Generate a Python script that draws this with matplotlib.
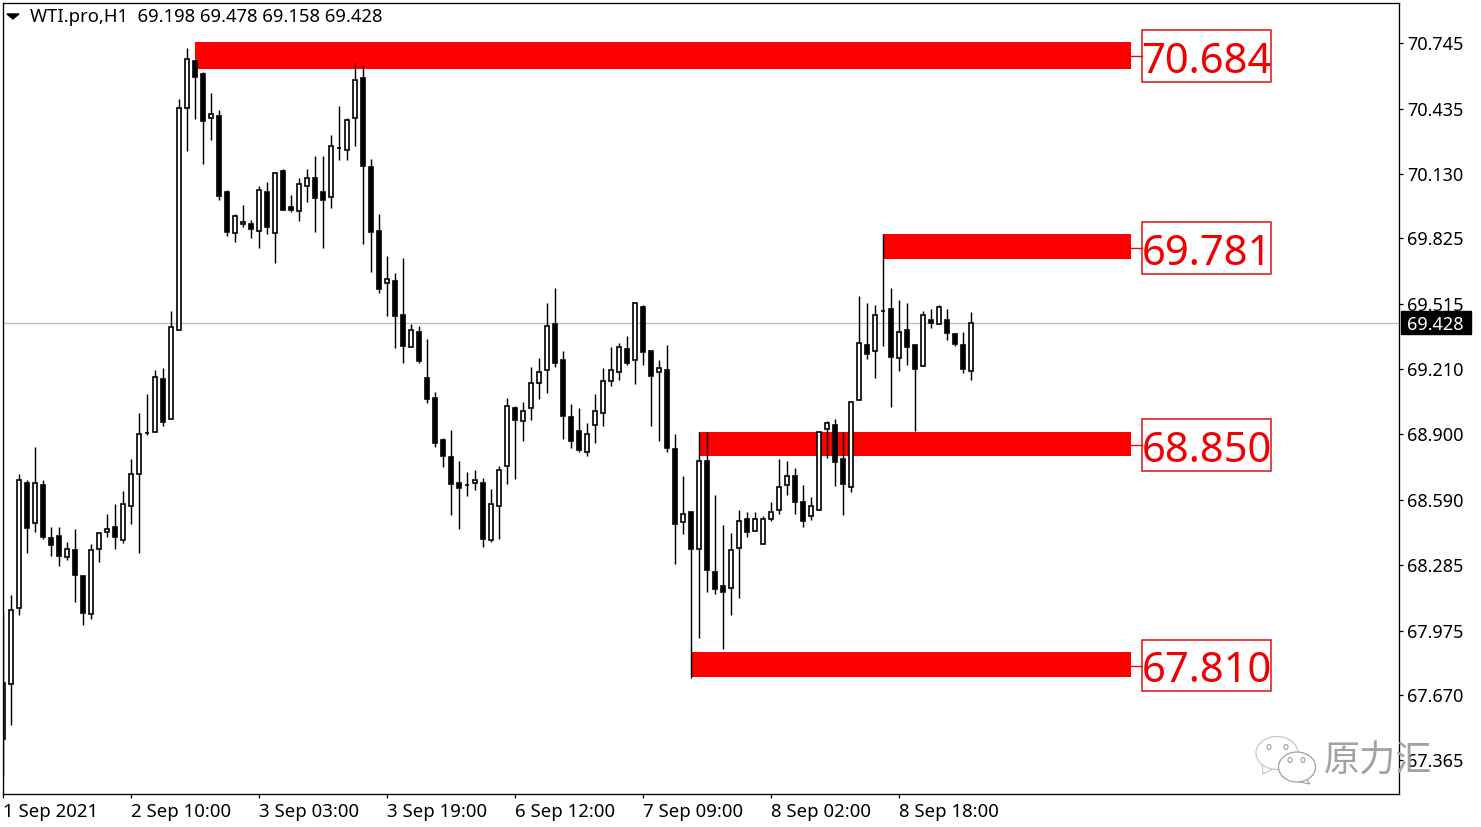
import matplotlib
matplotlib.use('Agg')
import matplotlib.pyplot as plt
from matplotlib.patches import Rectangle, Ellipse, Polygon
from matplotlib.transforms import blended_transform_factory

plt.rcParams['font.family'] = ['Noto Sans', 'DejaVu Sans']

# 1. Chart data (WTI.pro, H1 bars)
opens = [67.464, 67.723, 68.081, 68.671, 68.482, 68.661, 68.411, 68.421, 68.322, 68.355,
         68.232, 68.053, 68.359, 68.440, 68.463, 68.402, 68.562, 68.713, 68.906, 68.911,
         69.161, 68.972, 69.392, 70.439, 70.660, 70.599, 70.392, 70.401, 70.043, 69.850,
         69.892, 69.892, 69.859, 70.043, 69.850, 70.142, 69.972, 69.953, 70.071, 70.109,
         70.043, 70.019, 70.250, 70.241, 70.392, 70.580, 70.161, 69.859, 69.614, 69.623,
         69.463, 69.312, 69.383, 69.166, 69.071, 68.873, 68.793, 68.671, 68.661, 68.671,
         68.671, 68.402, 68.562, 68.751, 69.024, 68.963, 69.024, 69.142, 69.203, 69.420,
         69.251, 68.982, 68.916, 68.817, 68.944, 69.001, 69.151, 69.194, 69.303, 69.251,
         69.500, 69.293, 69.194, 69.203, 68.831, 68.487, 68.534, 68.359, 68.774, 68.251,
         68.185, 68.176, 68.364, 68.501, 68.444, 68.383, 68.501, 68.543, 68.661, 68.704,
         68.581, 68.515, 68.543, 68.925, 68.944, 68.784, 68.652, 69.062, 69.321, 69.293,
         69.482, 69.491, 69.260, 69.392, 69.321, 69.222, 69.439, 69.420, 69.439, 69.373,
         69.321, 69.198]
highs = [68.063, 68.142, 68.713, 68.685, 68.840, 68.685, 68.463, 68.463, 68.392, 68.454,
         68.232, 68.383, 68.435, 68.525, 68.572, 68.633, 68.784, 69.001, 69.090, 69.203,
         69.213, 69.482, 70.481, 70.722, 70.660, 70.608, 70.509, 70.429, 70.052, 69.939,
         69.981, 69.911, 70.071, 70.090, 70.137, 70.151, 70.029, 70.109, 70.151, 70.212,
         70.212, 70.311, 70.448, 70.392, 70.651, 70.641, 70.198, 69.939, 69.741, 69.661,
         69.732, 69.420, 69.411, 69.350, 69.100, 68.883, 68.921, 68.774, 68.722, 68.732,
         68.694, 68.642, 68.751, 69.071, 69.034, 69.052, 69.217, 69.260, 69.519, 69.590,
         69.293, 69.043, 69.024, 68.954, 69.090, 69.213, 69.312, 69.331, 69.364, 69.519,
         69.510, 69.293, 69.251, 69.321, 68.902, 68.704, 68.534, 68.911, 68.911, 68.614,
         68.473, 68.435, 68.543, 68.534, 68.534, 68.515, 68.581, 68.784, 68.774, 68.741,
         68.661, 68.605, 68.911, 68.963, 68.972, 68.911, 69.052, 69.552, 69.519, 69.510,
         69.845, 69.590, 69.534, 69.519, 69.321, 69.482, 69.491, 69.510, 69.491, 69.373,
         69.383, 69.478]
lows = [67.289, 67.530, 68.048, 68.341, 68.440, 68.407, 68.326, 68.279, 68.308, 68.110,
        68.001, 68.030, 68.298, 68.416, 68.359, 68.388, 68.477, 68.341, 68.897, 68.911,
        68.939, 68.972, 69.392, 70.236, 70.387, 70.175, 70.288, 70.005, 69.835, 69.807,
        69.878, 69.826, 69.779, 69.845, 69.708, 69.958, 69.948, 69.906, 69.996, 69.854,
        69.779, 69.967, 70.194, 70.194, 70.260, 69.798, 69.666, 69.567, 69.458, 69.307,
        69.236, 69.312, 69.236, 69.048, 68.840, 68.746, 68.520, 68.454, 68.610, 68.638,
        68.369, 68.393, 68.407, 68.666, 68.689, 68.869, 68.968, 69.067, 69.095, 69.217,
        68.878, 68.836, 68.817, 68.798, 68.859, 68.939, 69.128, 69.156, 69.227, 69.137,
        69.227, 68.939, 68.869, 68.817, 68.289, 68.430, 67.751, 67.940, 68.157, 68.147,
        67.888, 68.048, 68.128, 68.416, 68.444, 68.383, 68.491, 68.525, 68.614, 68.525,
        68.463, 68.496, 68.543, 68.788, 68.656, 68.520, 68.628, 69.062, 69.255, 69.166,
        69.317, 69.029, 69.199, 69.227, 68.916, 69.222, 69.401, 69.420, 69.345, 69.317,
        69.189, 69.158]
closes = [67.728, 68.072, 68.685, 68.458, 68.671, 68.416, 68.378, 68.326, 68.359, 68.237,
          68.058, 68.355, 68.435, 68.454, 68.416, 68.572, 68.713, 68.902, 68.906, 69.170,
          68.958, 69.406, 70.439, 70.670, 70.585, 70.378, 70.410, 70.024, 69.854, 69.930,
          69.901, 69.868, 70.052, 69.878, 70.132, 69.958, 69.958, 70.080, 70.109, 70.014,
          70.005, 70.260, 70.250, 70.382, 70.571, 70.165, 69.854, 69.585, 69.632, 69.458,
          69.317, 69.392, 69.246, 69.067, 68.859, 68.798, 68.666, 68.647, 68.661, 68.685,
          68.407, 68.572, 68.732, 69.034, 68.968, 69.010, 69.142, 69.194, 69.411, 69.236,
          68.987, 68.869, 68.826, 68.902, 69.010, 69.151, 69.203, 69.312, 69.236, 69.519,
          69.288, 69.175, 69.213, 68.836, 68.477, 68.525, 68.359, 68.774, 68.260, 68.171,
          68.157, 68.355, 68.491, 68.440, 68.501, 68.501, 68.534, 68.652, 68.704, 68.581,
          68.491, 68.562, 68.911, 68.954, 68.770, 68.666, 69.052, 69.331, 69.279, 69.463,
          69.482, 69.265, 69.383, 69.312, 69.208, 69.463, 69.425, 69.500, 69.378, 69.326,
          69.208, 69.428]

level_values = [70.684, 69.781, 68.850, 67.810]
level_labels = ['70.684', '69.781', '68.850', '67.810']
band_tops = [70.750, 69.845, 68.911, 67.874]
band_bottoms = [70.623, 69.727, 68.798, 67.756]
level_start = [24, 110, 87, 86]
level_end = 141

y_ticks = [70.745, 70.435, 70.130, 69.825, 69.515, 69.210, 68.900, 68.590, 68.285, 67.975, 67.670, 67.365]
y_tick_labels = ['70.745', '70.435', '70.130', '69.825', '69.515', '69.210', '68.900', '68.590',
                 '68.285', '67.975', '67.670', '67.365']
x_ticks = [0, 16, 32, 48, 64, 80, 96, 112]
x_tick_labels = ['1 Sep 2021', '2 Sep 10:00', '3 Sep 03:00', '3 Sep 19:00',
                 '6 Sep 12:00', '7 Sep 09:00', '8 Sep 02:00', '8 Sep 18:00']
last_price = 69.428
header = 'WTI.pro,H1  69.198 69.478 69.158 69.428'

# 2. Figure and axes, placed to the pixel
W, H = 1481, 827
fig = plt.figure(figsize=(W / 100, H / 100), dpi=100, facecolor='white')
ax = fig.add_axes([2.5 / W, 1 - 794 / H, (1399 - 2.5) / W, (794 - 2.5) / H])
ax.set_xlim(-0.125, 174.44)
ax.set_ylim(67.204, 70.938)
for s in ax.spines.values():
    s.set_linewidth(0.95)

# 3. Red bands with their boxed labels
for v, lab, st, top, bot in zip(level_values, level_labels, level_start, band_tops, band_bottoms):
    ax.barh((top + bot) / 2, level_end - st, left=st, height=top - bot, color='#ff0000', zorder=1)
    ax.plot([level_end, 142.3], [v, v], color='#e01010', lw=1, zorder=1)
    ax.add_patch(Rectangle((142.3, v - 0.122), 16.2, 0.244, fill=False, ec='#e01010', lw=1.1, zorder=3))
    ax.text(150.4, v - 0.004, lab, color='#f00000', fontsize=30, ha='center', va='center_baseline', zorder=3)

# 4. Current price line
ax.axhline(last_price, color='#c0c0c0', lw=1, zorder=1.5)

# 5. Candles
bars = list(range(len(opens)))
ax.vlines(bars, lows, highs, color='black', lw=1.05, zorder=2)
for i in bars:
    up = closes[i] >= opens[i]
    ax.bar(i, abs(closes[i] - opens[i]), bottom=min(opens[i], closes[i]), width=0.5,
           facecolor='white' if up else 'black', edgecolor='black', linewidth=1.2, zorder=2.5)

# 6. Axis labels
ax.yaxis.tick_right()
ax.set_yticks(y_ticks)
ax.set_yticklabels(y_tick_labels, fontsize=13)
ax.set_xticks(x_ticks)
ax.set_xticklabels(x_tick_labels, fontsize=13.4, ha='left')
ax.tick_params(axis='y', length=3, width=0.9, pad=3)
ax.tick_params(axis='x', length=3, width=0.9, pad=3.5)

ax.text(0.0195, 0.9817, header, transform=ax.transAxes, fontsize=13.3, ha='left', va='center')
ax.add_patch(Polygon([[0.0032, 0.9855], [0.0118, 0.9855], [0.0075, 0.9792]], transform=ax.transAxes,
                     color='black', zorder=4))

# black box holding the last price
trans = blended_transform_factory(ax.transAxes, ax.transData)
ax.add_patch(Rectangle((1.0015, last_price - 0.054), 0.0502, 0.108, transform=trans, color='black',
                       clip_on=False, zorder=5))
ax.text(1.0060, last_price, '69.428', transform=trans, color='white', fontsize=13, ha='left',
        va='center_baseline', clip_on=False, zorder=6)

# 7. Watermark on an overlay in pixel units
over = fig.add_axes([0, 0, 1, 1], zorder=10)
over.set_xlim(0, W)
over.set_ylim(H, 0)
over.axis('off')
mark = '#a0a0a0'
over.add_patch(Polygon([[1262, 762], [1263, 774], [1275, 768]], fc='white', ec='#c4c4c4', lw=0.8))
over.add_patch(Ellipse((1277, 753), 42, 33, fc='white', ec='#c8c8c8', lw=0.9))
over.add_patch(Polygon([[1304, 776], [1310, 784], [1295, 781]], fc='white', ec=mark, lw=0.8))
over.add_patch(Ellipse((1297, 767), 37, 30, fc='white', ec=mark, lw=0.9))
for ex, ey in [(1269, 747), (1286, 747), (1290, 760), (1303, 760)]:
    over.add_patch(Ellipse((ex, ey), 4, 5, fc='white', ec=mark, lw=0.8))
over.text(1378, 762, '原力汇', family=['Noto Sans CJK SC', 'DejaVu Sans'], fontsize=26,
          color='#a2a2a2', ha='center', va='center')

fig.savefig('out.png', dpi=100, facecolor='white')
